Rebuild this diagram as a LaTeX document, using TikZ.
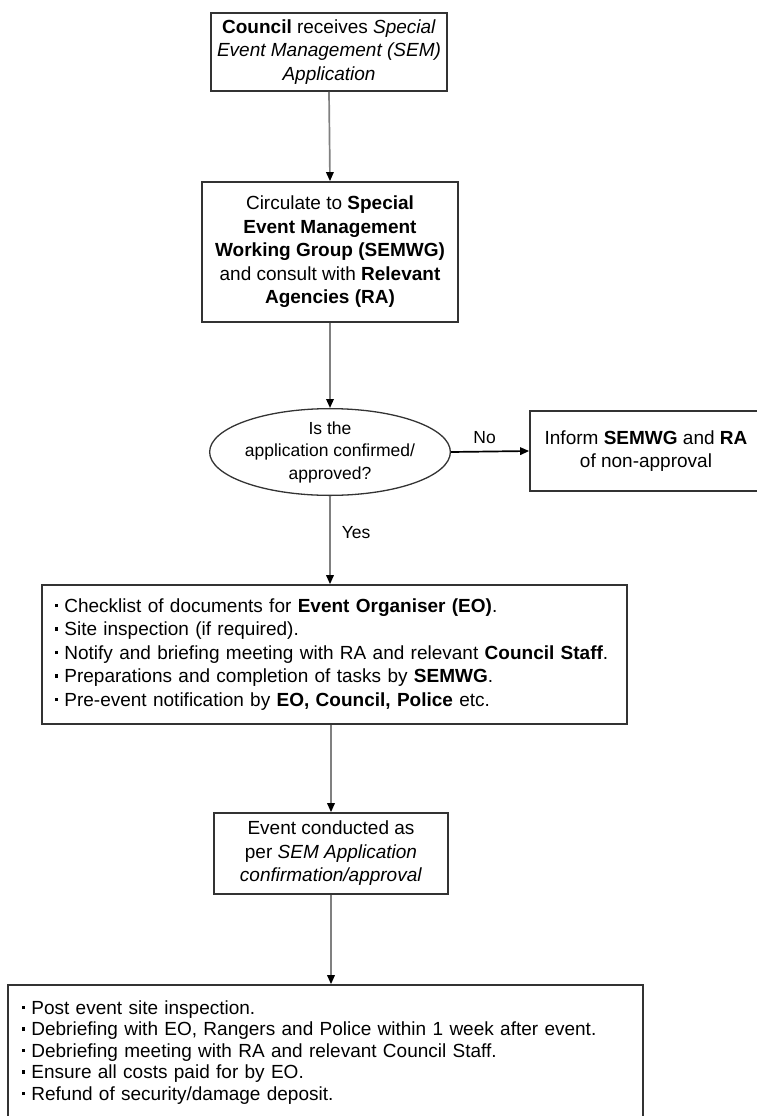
\documentclass[tikz,border=0pt]{standalone}
\usepackage{fontspec}
\setmainfont{Liberation Sans}
\usetikzlibrary{arrows.meta,shapes.geometric}
\newcommand\bul{\raisebox{0.28em}{\rule{3.4pt}{3.4pt}}\hspace{6pt}}
\begin{document}
\begin{tikzpicture}[x=1pt,y=-1pt,
  box/.style={draw=black!80, line width=1.7pt, inner sep=0pt, align=center,
    font=\fontsize{19}{23.5}\selectfont},
  listbox/.style={draw=black!80, line width=1.7pt, align=left, inner ysep=0pt,
    font=\fontsize{19}{23.5}\selectfont},
  conn/.style={draw=black!50, line width=1.7pt,
    -{Triangle[length=9pt,width=7.5pt,color=black]}},
  lab/.style={font=\fontsize{17.5}{21}\selectfont, inner sep=2pt}]
\useasboundingbox (0,0) rectangle (757,1116);
\node[box, minimum width=236pt, minimum height=78pt] (b1) at (329,52)
  {\textbf{Council} receives \textit{Special}\\ \textit{Event Management (SEM)}\\ \textit{Application}};
\node[box, minimum width=256pt, minimum height=140pt] (b2) at (330,252)
  {Circulate to \textbf{Special}\\ \textbf{Event Management}\\ \textbf{Working Group (SEMWG)}\\ and consult with \textbf{Relevant}\\ \textbf{Agencies (RA)}};
\node[ellipse, draw=black!80, line width=1.3pt, minimum width=235pt, minimum height=86pt,
  inner sep=0pt, align=center, font=\fontsize{17.5}{22.5}\selectfont] (dec) at (330,452)
  {Is the\\ application confirmed/\\ approved?};
\node[box, minimum width=232pt, minimum height=80pt] (b3) at (646,451)
  {Inform \textbf{SEMWG} and \textbf{RA}\\ of non-approval};
\node[listbox, text width=559pt, inner xsep=13pt, minimum height=139pt] (b4) at (334.5,654.5)
  {\bul Checklist of documents for \textbf{Event Organiser (EO)}.\\
   \bul Site inspection (if required).\\
   \bul Notify and briefing meeting with RA and relevant \textbf{Council Staff}.\\
   \bul Preparations and completion of tasks by \textbf{SEMWG}.\\
   \bul Pre-event notification by \textbf{EO, Council, Police} etc.};
\node[box, minimum width=234pt, minimum height=81pt] (b5) at (331,853.5)
  {Event conducted as\\ per \textit{SEM Application}\\ \textit{confirmation/approval}};
\node[listbox, text width=607pt, inner xsep=14pt, minimum height=135pt,
  font=\fontsize{19}{21.5}\selectfont] (b6) at (325.5,1052.5)
  {\bul Post event site inspection.\\
   \bul Debriefing with EO, Rangers and Police within 1 week after event.\\
   \bul Debriefing meeting with RA and relevant Council Staff.\\
   \bul Ensure all costs paid for by EO.\\
   \bul Refund of security/damage deposit.};
\draw[conn] (b1.south) -- (b2.north);
\draw[conn] (b2.south) -- (dec.north);
\draw[conn, draw=black] (dec.east) -- node[lab, above=5pt, pos=0.43] {No} (b3.west);
\draw[conn] (dec.south) -- (dec.south |- b4.north)
  node[lab, right=9pt, pos=0.41] {Yes};
\draw[conn] (b5.north |- b4.south) -- (b5.north);
\draw[conn] (b5.south) -- (b5.south |- b6.north);
\end{tikzpicture}
\end{document}
